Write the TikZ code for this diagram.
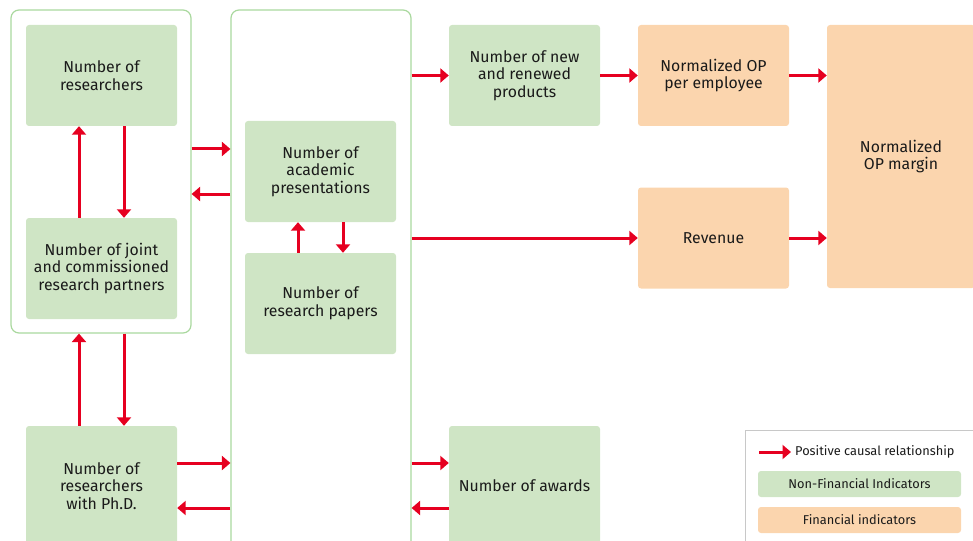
\documentclass[tikz,border=0pt]{standalone}
\usepackage{fontspec}
\setmainfont{Fira Sans}
\usetikzlibrary{arrows.meta}
\definecolor{nfin}{HTML}{CFE5C5}
\definecolor{fin}{HTML}{FBD5AE}
\definecolor{grpline}{HTML}{A9D89E}
\definecolor{arrred}{HTML}{E60020}
\definecolor{legline}{HTML}{C8C8C8}
\definecolor{txt}{HTML}{1A1A1A}
\tikzset{
  ind/.style={fill=nfin, rounded corners=3pt, minimum width=151pt, minimum height=101pt,
    align=center, inner sep=0pt, text=txt, font=\fontsize{15.8}{17.5}\selectfont},
  findind/.style={ind, fill=fin},
  grp/.style={draw=grpline, line width=1.2pt, rounded corners=8pt, inner sep=0pt},
  arr/.style={draw=arrred, line width=3pt, -{Triangle[length=8.5pt,width=14pt]}},
  legbox/.style={fill=#1, rounded corners=3pt, minimum width=203pt, minimum height=26pt,
    inner sep=0pt, text=txt, font=\fontsize{12.8}{14}\selectfont},
}
\begin{document}
\begin{tikzpicture}[x=1pt,y=-1pt]
\useasboundingbox (0,0) rectangle (973,540);
\clip (0,0) rectangle (973,540);

% group frames
\node[grp, minimum width=180pt, minimum height=323pt] (lgrp) at (101,171.5) {};
\node[grp, minimum width=180pt, minimum height=560pt] (mgrp) at (321,290) {};

% indicators
\node[ind] (res) at (101.5,75.5) {Number of\\researchers};
\node[ind] (jnt) at (101.5,268.5) {Number of joint\\and commissioned\\research partners};
\node[ind, minimum height=120pt] (phd) at (101.5,486) {Number of\\researchers\\with Ph.D.};
\node[ind] (pres) at (320.5,171.5) {Number of\\academic\\presentations};
\node[ind] (pap) at (320.5,303.5) {Number of\\research papers};
\node[ind] (newp) at (524.5,75.5) {Number of new\\and renewed\\products};
\node[ind, minimum height=120pt] (awd) at (524.5,486) {Number of awards};
\node[findind] (opemp) at (713.5,75.5) {Normalized OP\\per employee};
\node[findind] (rev) at (713.5,238) {Revenue};
\node[findind, minimum width=148pt, minimum height=263pt] (mrg) at (901,156.5) {Normalized\\OP margin};

% helper rows for horizontal links
\coordinate (rA) at (0,149);
\coordinate (rB) at (0,194);
\coordinate (rC) at (0,463);
\coordinate (rD) at (0,508);
\coordinate (rE) at (0,75.5);
\coordinate (rF) at (0,238);

% vertical links
\draw[arr] ([xshift=-22.5pt]jnt.north) -- ([xshift=-22.5pt]res.south);
\draw[arr] ([xshift=22.5pt]res.south) -- ([xshift=22.5pt]jnt.north);
\draw[arr] ([xshift=-22.5pt]phd.north) -- ([xshift=-22pt]lgrp.south);
\draw[arr] ([xshift=23pt]lgrp.south) -- ([xshift=22.5pt]phd.north);
\draw[arr] ([xshift=-22.5pt]pap.north) -- ([xshift=-22.5pt]pres.south);
\draw[arr] ([xshift=22.5pt]pres.south) -- ([xshift=22.5pt]pap.north);

% horizontal links
\draw[arr] (lgrp.east |- rA) -- (mgrp.west |- rA);
\draw[arr] (mgrp.west |- rB) -- (lgrp.east |- rB);
\draw[arr] (phd.east |- rC) -- (mgrp.west |- rC);
\draw[arr] (mgrp.west |- rD) -- (phd.east |- rD);
\draw[arr] (mgrp.east |- rE) -- (newp.west |- rE);
\draw[arr] (mgrp.east |- rF) -- (rev.west |- rF);
\draw[arr] (mgrp.east |- rC) -- (awd.west |- rC);
\draw[arr] (awd.west |- rD) -- (mgrp.east |- rD);
\draw[arr] (newp) -- (opemp);
\draw[arr] (opemp.east) -- (mrg.west |- opemp.east);
\draw[arr] (rev.east |- rF) -- (mrg.west |- rF);

% legend
\node[draw=legline, line width=1pt, minimum width=240pt, minimum height=130pt, inner sep=0pt] (leg) at (865,495) {};
\coordinate (la) at (759,452);
\coordinate (lb) at (791,452);
\draw[arr] (la) -- (lb);
\node[anchor=west, inner sep=0pt, text=txt, font=\fontsize{12.8}{14}\selectfont] (lt) at (795,452) {Positive causal relationship};
\node[legbox=nfin] (lg) at (859.5,484) {Non-Financial Indicators};
\node[legbox=fin] (lo) at (859.5,520) {Financial indicators};
\end{tikzpicture}
\end{document}
